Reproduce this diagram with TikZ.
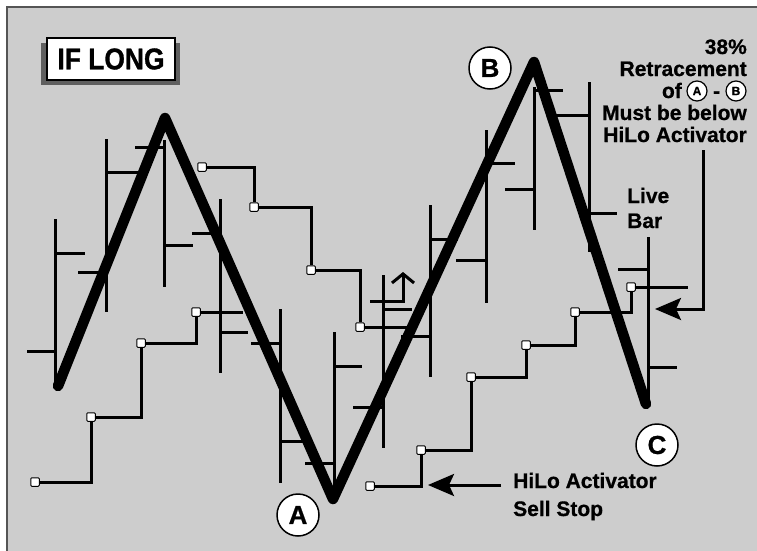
\documentclass[tikz,border=0pt]{standalone}
\usepackage{fontspec}
\setmainfont{Liberation Sans}
\newfontfamily\lblfont{Liberation Sans Bold}[FakeBold=0.8]
\newfontfamily\boxfont{Liberation Sans Bold}[FakeStretch=0.88, FakeBold=1]
\usetikzlibrary{arrows.meta}
\definecolor{chartbg}{RGB}{205,205,205}
\definecolor{framegray}{RGB}{85,85,85}
\definecolor{shadowgray}{RGB}{95,95,95}
\tikzset{
  bar/.style={line width=3pt},
  stepline/.style={line width=3pt},
  swing/.style={line width=10.5pt, line cap=round, line join=round},
  stop/.style={draw, fill=white, rounded corners=1pt, minimum size=8.5pt, inner sep=0pt, line width=1pt},
  lbl/.style={inner sep=0pt, font=\lblfont\fontsize{21}{22}\selectfont},
  titlebox/.style={draw, fill=white, line width=2pt, minimum width=128pt, minimum height=42pt, inner sep=0pt, font=\boxfont\fontsize{30}{30}\selectfont},
  pt/.style={circle, draw, fill=white, line width=1.5pt, minimum size=42pt, inner sep=0pt, font=\lblfont\fontsize{26}{26}\selectfont},
  smallpt/.style={circle, draw, fill=white, line width=1.2pt, minimum size=20pt, inner sep=0pt, font=\lblfont\fontsize{12}{12}\selectfont},
  pointer/.style={line width=3pt, -{Stealth[length=26pt,width=22pt,inset=5pt]}}
}
\begin{document}
\begin{tikzpicture}[x=1pt,y=-1pt]
  \useasboundingbox (0,0) rectangle (757,551);
  \fill[white] (0,0) rectangle (757,551);
  \draw[framegray, line width=2pt, fill=chartbg] (7,7) rectangle (762,556);
  \fill[shadowgray] (41,43) rectangle (180,85);
  \node[titlebox] (iflong) at (111,59) {IF LONG};
  \draw[bar] (55,219) -- (55,382) (27,351) -- (55,351) (55,253) -- (85,253);
  \draw[bar] (106,139) -- (106,312) (78,272) -- (106,272) (106,172) -- (138,172);
  \draw[bar] (164,140) -- (164,287) (135,147) -- (164,147) (164,245) -- (193,245);
  \draw[bar] (220,199) -- (220,373) (192,233) -- (220,233) (220,332) -- (248,332);
  \draw[bar] (280,309) -- (280,483) (251,343) -- (280,343) (280,441) -- (303,441);
  \draw[bar] (334,332) -- (334,490) (305,463) -- (334,463) (334,366) -- (362,366);
  \draw[bar] (383,275) -- (383,448) (353,407) -- (383,407) (383,309) -- (412,309);
  \draw[bar] (430,205) -- (430,377) (401,336) -- (430,336) (430,239) -- (458,239);
  \draw[bar] (486,130) -- (486,303) (456,260) -- (486,260) (486,163) -- (515,163);
  \draw[bar] (534,87) -- (534,230) (505,189) -- (534,189) (534,90) -- (563,90);
  \draw[bar] (589,82) -- (589,252) (555,115) -- (589,115) (589,213) -- (617,213);
  \draw[bar] (648,237) -- (648,402) (618,269) -- (648,269) (648,367) -- (677,367);
  \coordinate (uptip) at (403,272);
  \draw[bar, -{Straight Barb[length=9pt,width=22pt]}] (370,301) -- (403,301) -- (uptip);
  \coordinate (sw0) at (58,386);
  \coordinate (sw1) at (165,118);
  \coordinate (swA) at (333,499);
  \coordinate (swB) at (534,62);
  \coordinate (swC) at (646,404);
  \draw[swing] (sw0) -- (sw1) -- (swA) -- (swB) -- (swC);
  \node[stop] (h1) at (35,482) {};
  \node[stop] (h2) at (91,417) {};
  \node[stop] (h3) at (141,343) {};
  \node[stop] (h4) at (196,312) {};
  \coordinate (h5) at (243,312);
  \draw[stepline] (h1) -| (h2);
  \draw[stepline] (h2) -| (h3);
  \draw[stepline] (h3) -| (h4);
  \draw[stepline] (h4) -- (h5);
  \node[stop] (u1) at (202,167) {};
  \node[stop] (u2) at (254,207) {};
  \node[stop] (u3) at (311,270) {};
  \node[stop] (u4) at (360,327) {};
  \coordinate (u5) at (410,327);
  \draw[stepline] (u1) -| (u2);
  \draw[stepline] (u2) -| (u3);
  \draw[stepline] (u3) -| (u4);
  \draw[stepline] (u4) -- (u5);
  \node[stop] (r1) at (370,486) {};
  \node[stop] (r2) at (421,450) {};
  \node[stop] (r3) at (471,377) {};
  \node[stop] (r4) at (526,345) {};
  \node[stop] (r5) at (575,312) {};
  \node[stop] (r6) at (631,287) {};
  \coordinate (r7) at (688,287);
  \draw[stepline] (r1) -| (r2);
  \draw[stepline] (r2) -| (r3);
  \draw[stepline] (r3) -| (r4);
  \draw[stepline] (r4) -| (r5);
  \draw[stepline] (r5) -| (r6);
  \draw[stepline] (r6) -- (r7);
  \node[pt] (labA) at (298,515) {A};
  \node[pt] (labB) at (490,68) {B};
  \node[pt] (labC) at (657,445) {C};
  \node[lbl, anchor=base east] (retr1) at (747,54) {38\%};
  \node[lbl, anchor=base east] (retr2) at (747,76) {Retracement};
  \node[lbl, anchor=base east] (retr3) at (682,98) {of};
  \node[smallpt] (retA) at (697,91) {A};
  \node[lbl, anchor=base] (retdash) at (716.5,98) {-};
  \node[smallpt] (retB) at (736,91) {B};
  \node[lbl, anchor=base east] (retr4) at (747,120) {Must be below};
  \node[lbl, anchor=base east] (retr5) at (747,142) {HiLo Activator};
  \node[lbl, anchor=base west] (live1) at (627,203) {Live};
  \node[lbl, anchor=base west] (live2) at (627,228) {Bar};
  \node[lbl, anchor=base west] (stop1) at (513,488) {HiLo Activator};
  \node[lbl, anchor=base west] (stop2) at (513,516) {Sell Stop};
  \coordinate (retcorner) at (703,309);
  \coordinate (retip) at (655,309);
  \coordinate (stoptip) at (428,485);
  \draw[pointer] ([yshift=-8pt]retr5.south -| retcorner) -- (retcorner) -- (retip);
  \draw[pointer] ([xshift=-12pt]stop1.west |- stoptip) -- (stoptip);
\end{tikzpicture}
\end{document}
